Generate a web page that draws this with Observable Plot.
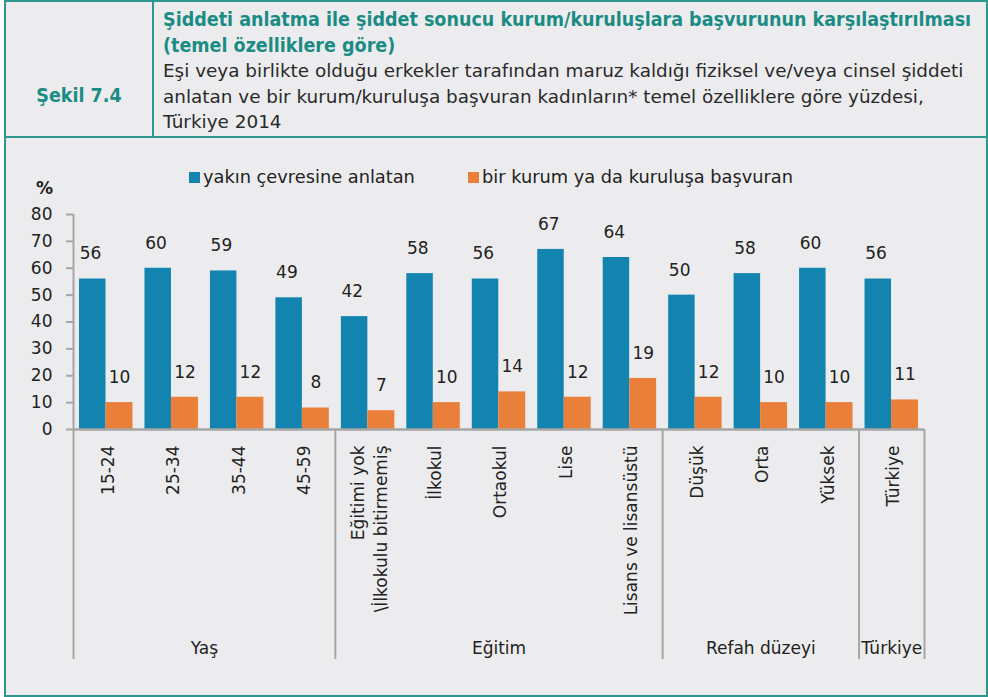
<!DOCTYPE html>
<html>
<head>
<meta charset="utf-8">
<script src="https://cdn.jsdelivr.net/npm/d3@7"></script>
<script src="https://cdn.jsdelivr.net/npm/@observablehq/plot@0.6"></script>
<style>
  html, body { margin: 0; padding: 0; background: #ffffff; }
  #frame { position: absolute; left: 4px; top: 0; width: 984px; height: 697px; box-sizing: border-box;
           border: 2px solid #2e968f; background: #ececee; }
  .hline { position: absolute; left: 4px; top: 136px; width: 984px; height: 2px; background: #2e968f; }
  .vline { position: absolute; left: 152px; top: 0; width: 2px; height: 137px; background: #2e968f; }
  #fig { position: absolute; left: 6px; top: 84px; width: 146px; text-align: center;
         font: bold 19.5px "DejaVu Sans", sans-serif; font-stretch: condensed; color: #1b8c85; }
  #head { position: absolute; left: 163px; top: 7px; white-space: nowrap; font-family: "DejaVu Sans", sans-serif;
          font-size: 18.4px; line-height: 25.5px; }
  #head .t { color: #1b8c85; font-weight: bold; font-stretch: condensed; font-size: 19.5px; }
  #head .s { color: #2a2a2a; }
  .legend { position: absolute; top: 166px; font: 17.8px "DejaVu Sans", sans-serif; color: #222; white-space: nowrap; }
  .legend span.sw { display: inline-block; width: 11px; height: 11px; margin-right: 3px; vertical-align: 0px; }
  #pct { position: absolute; left: 36px; top: 178px; font: bold 17px "DejaVu Sans", sans-serif; color: #222; }
  svg { position: absolute; left: 0; }
</style>
</head>
<body>
<div id="frame"></div>
<div class="hline"></div>
<div class="vline"></div>
<div id="fig">Şekil 7.4</div>
<div id="head">
  <div class="t">Şiddeti anlatma ile şiddet sonucu kurum/kuruluşlara başvurunun karşılaştırılması</div>
  <div class="t">(temel özelliklere göre)</div>
  <div class="s">Eşi veya birlikte olduğu erkekler tarafından maruz kaldığı fiziksel ve/veya cinsel şiddeti</div>
  <div class="s">anlatan ve bir kurum/kuruluşa başvuran kadınların* temel özelliklere göre yüzdesi,</div>
  <div class="s">Türkiye 2014</div>
</div>
<div id="pct">%</div>
<div id="legend"></div>
<script>
// ---- data ----
const categories = ["15-24", "25-34", "35-44", "45-59",
  "Eğitimi yok\n\\İlkokulu bitirmemiş", "İlkokul", "Ortaokul", "Lise", "Lisans ve lisansüstü",
  "Düşük", "Orta", "Yüksek", "Türkiye"];
const groupOf = ["Yaş", "Yaş", "Yaş", "Yaş",
  "Eğitim", "Eğitim", "Eğitim", "Eğitim", "Eğitim",
  "Refah düzeyi", "Refah düzeyi", "Refah düzeyi", "Türkiye"];
const groups = ["Yaş", "Eğitim", "Refah düzeyi", "Türkiye"];
const toldValues = [56, 60, 59, 49, 42, 58, 56, 67, 64, 50, 58, 60, 56];
const appliedValues = [10, 12, 12, 8, 7, 10, 14, 12, 19, 12, 10, 10, 11];
const seriesNames = ["yakın çevresine anlatan", "bir kurum ya da kuruluşa başvuran"];
const seriesColors = ["#1384b0", "#ea7f3a"];
const yTicks = [0, 10, 20, 30, 40, 50, 60, 70, 80];

// ---- legend ----
const legendLeft = [189, 468];
const legendBox = document.getElementById("legend");
seriesNames.forEach((name, i) => {
  const d = document.createElement("div");
  d.className = "legend";
  d.style.left = legendLeft[i] + "px";
  d.innerHTML = `<span class="sw" style="background:${seriesColors[i]}"></span>${name}`;
  legendBox.appendChild(d);
});

// ---- layout ----
const W = 988, ML = 73, MR = 64;
const step = (W - ML - MR) / categories.length;
const axisColor = "#a6a6a6";
const font = {background: "transparent", fontFamily: "DejaVu Sans", fontSize: "17px", color: "#222", overflow: "visible"};
const xScale = {type: "band", domain: categories, padding: 0, round: false, axis: null};

const rows = categories.map((c, i) => ({cat: c, told: toldValues[i], applied: appliedValues[i]}));

const barsPlot = Plot.plot({
  width: W, height: 260, marginLeft: ML, marginRight: MR, marginTop: 24, marginBottom: 21,
  style: font,
  x: xScale,
  y: {domain: [0, 80], axis: null},
  marks: [
    Plot.barY(rows, {x: "cat", y: "told", fill: seriesColors[0], insetLeft: 6, insetRight: step - 32.5}),
    Plot.barY(rows, {x: "cat", y: "applied", fill: seriesColors[1], insetLeft: 32.5, insetRight: 6}),
    Plot.text(rows, {x: "cat", y: "told", text: d => String(d.told), dx: -(step / 2 - 19) - 2, dy: -25, fill: "#222"}),
    Plot.text(rows, {x: "cat", y: "applied", text: d => String(d.applied), dx: 46 - step / 2, dy: -25, fill: "#222"}),
    Plot.axisY({ticks: yTicks, tickSize: 7, tickPadding: 14, stroke: axisColor, strokeWidth: 2, fill: "#222", label: null, fontSize: 17}),
    Plot.ruleY([0], {stroke: axisColor, strokeWidth: 2.5}),
    Plot.ruleX([categories[0]], {dx: -step / 2, stroke: axisColor, strokeWidth: 2})
  ]
});
barsPlot.style.top = "190px";
document.body.appendChild(barsPlot);

const groupStarts = groups.map(g => categories[groupOf.indexOf(g)]);
const groupMarks = groups.map(g => {
  const i0 = groupOf.indexOf(g), i1 = groupOf.lastIndexOf(g);
  const mid = (i0 + i1) / 2, k = Math.floor(mid);
  return Plot.text([g], {x: () => categories[k], text: d => d, dx: (mid - k) * step,
    frameAnchor: "bottom", lineAnchor: "middle", dy: -11, fill: "#222"});
});

const labelsPlot = Plot.plot({
  width: W, height: 235, marginLeft: ML, marginRight: MR, marginTop: 0, marginBottom: 5,
  style: font,
  x: xScale,
  marks: [
    Plot.ruleX(groupStarts, {dx: -step / 2, stroke: axisColor, strokeWidth: 2}),
    Plot.ruleX([categories[categories.length - 1]], {dx: step / 2, stroke: axisColor, strokeWidth: 2}),
    Plot.text(categories, {x: d => d, text: d => d, rotate: -90, textAnchor: "end",
      frameAnchor: "top", lineAnchor: "middle", dy: 16, lineHeight: 1.35, fill: "#222"}),
    ...groupMarks
  ]
});
labelsPlot.style.top = "429px";
document.body.appendChild(labelsPlot);
</script>
</body>
</html>
